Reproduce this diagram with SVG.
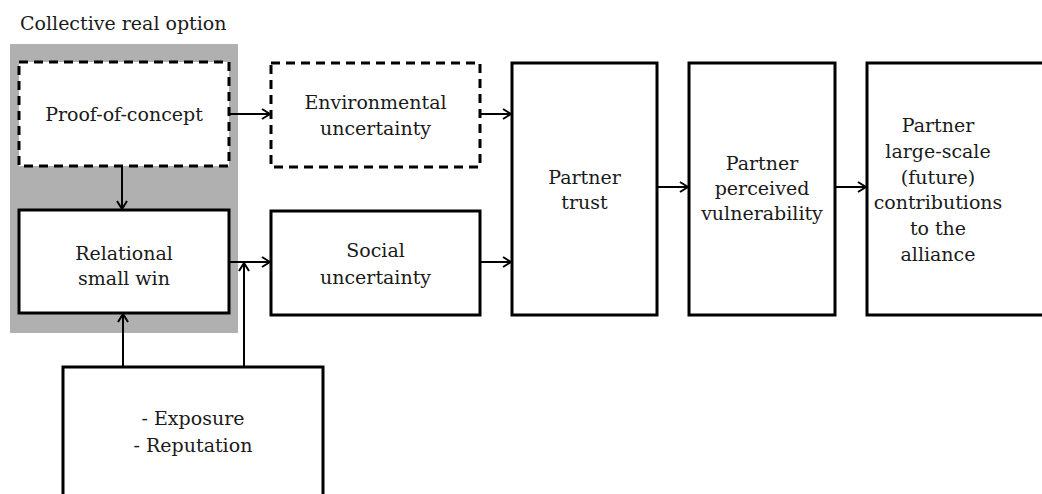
<svg xmlns="http://www.w3.org/2000/svg" width="1042" height="494" viewBox="0 0 1042 494">
<defs>
<marker id="arr" viewBox="0 0 10 12" refX="9" refY="6" markerWidth="10" markerHeight="12" markerUnits="userSpaceOnUse" orient="auto">
<path d="M1,1 L9,6 L1,11" fill="none" stroke="#000" stroke-width="2"/>
</marker>
<style>
.box{fill:#fff;stroke:#000;stroke-width:3}
.dash{stroke-dasharray:9 6}
.t{font-family:"DejaVu Serif","Liberation Serif",serif;font-size:19px;fill:#1a1a1a;text-anchor:middle}
.c{fill:none;stroke:#000;stroke-width:2}
</style>
</defs>
<rect width="1042" height="494" fill="#fff"/>
<g id="group-collective">
<text class="t" x="20" y="30" style="text-anchor:start">Collective real option</text>
<rect x="10" y="44" width="228" height="289" fill="#b0b0b0"/>
</g>
<g id="node-proof">
<rect class="box dash" x="19" y="62" width="210" height="104"/>
<text class="t" x="124" y="121">Proof-of-concept</text>
</g>
<g id="node-relational">
<rect class="box" x="19" y="210" width="210" height="103"/>
<text class="t" x="124" y="260">Relational</text>
<text class="t" x="124" y="285">small win</text>
</g>
<g id="node-env">
<rect class="box dash" x="271" y="63" width="209" height="104"/>
<text class="t" x="375.5" y="109">Environmental</text>
<text class="t" x="375.5" y="135">uncertainty</text>
</g>
<g id="node-social">
<rect class="box" x="271" y="211" width="209" height="104"/>
<text class="t" x="375.5" y="257">Social</text>
<text class="t" x="375.5" y="284">uncertainty</text>
</g>
<g id="node-trust">
<rect class="box" x="512" y="63" width="145" height="252"/>
<text class="t" x="584.5" y="184">Partner</text>
<text class="t" x="584.5" y="209">trust</text>
</g>
<g id="node-vuln">
<rect class="box" x="689" y="63" width="146" height="252"/>
<text class="t" x="762" y="170">Partner</text>
<text class="t" x="762" y="195">perceived</text>
<text class="t" x="762" y="220">vulnerability</text>
</g>
<g id="node-contrib">
<rect class="box" x="867" y="63" width="200" height="252"/>
<text class="t" x="938" y="132">Partner</text>
<text class="t" x="938" y="158">large-scale</text>
<text class="t" x="938" y="184">(future)</text>
<text class="t" x="938" y="209">contributions</text>
<text class="t" x="938" y="235">to the</text>
<text class="t" x="938" y="261">alliance</text>
</g>
<g id="node-exposure">
<rect class="box" x="63" y="367" width="260" height="140"/>
<text class="t" x="193" y="425">- Exposure</text>
<text class="t" x="193" y="452">- Reputation</text>
</g>
<g id="connectors">
<line class="c" x1="122" y1="166" x2="122" y2="209" marker-end="url(#arr)"/>
<line class="c" x1="229" y1="114" x2="270" y2="114" marker-end="url(#arr)"/>
<line class="c" x1="480" y1="114" x2="511" y2="114" marker-end="url(#arr)"/>
<line class="c" x1="229" y1="262" x2="270" y2="262" marker-end="url(#arr)"/>
<line class="c" x1="480" y1="262" x2="511" y2="262" marker-end="url(#arr)"/>
<line class="c" x1="657" y1="187" x2="688" y2="187" marker-end="url(#arr)"/>
<line class="c" x1="835" y1="187" x2="866" y2="187" marker-end="url(#arr)"/>
<line class="c" x1="123" y1="367" x2="123" y2="314" marker-end="url(#arr)"/>
<line class="c" x1="244" y1="367" x2="244" y2="263" marker-end="url(#arr)"/>
</g>
</svg>
